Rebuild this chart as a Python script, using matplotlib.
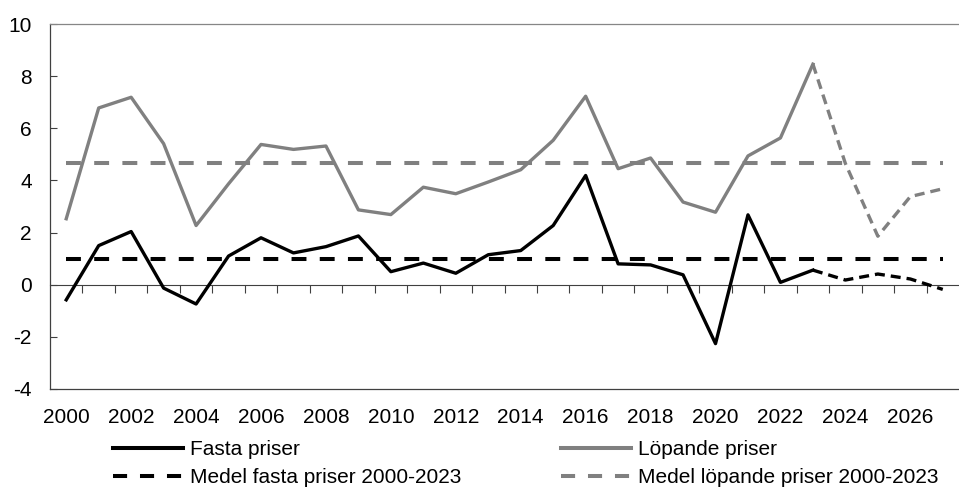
import matplotlib.pyplot as plt
from matplotlib.lines import Line2D

plt.rcParams['font.family'] = ['Liberation Sans', 'DejaVu Sans']
plt.rcParams['font.size'] = 15
plt.rcParams['axes.unicode_minus'] = False

# Data (percent change per year)
years = list(range(2000, 2028))
fasta = [-0.58, 1.50, 2.04, -0.13, -0.74, 1.10, 1.80, 1.22, 1.46, 1.87,
         0.50, 0.83, 0.44, 1.15, 1.31, 2.27, 4.19, 0.80, 0.76, 0.38,
         -2.26, 2.68, 0.09, 0.56, 0.18, 0.41, 0.22, -0.18]
lopande = [2.53, 6.78, 7.19, 5.41, 2.27, 3.87, 5.38, 5.19, 5.32, 2.87,
           2.69, 3.74, 3.49, 3.94, 4.41, 5.54, 7.23, 4.45, 4.86, 3.17,
           2.78, 4.94, 5.63, 8.46, 4.65, 1.86, 3.38, 3.68]
medel_fasta = 0.98
medel_lopande = 4.68
last_outcome = 2023
xticks = list(range(2000, 2028, 2))

black = '#000000'
grey = '#808080'

fig = plt.figure(figsize=(9.59, 4.88), dpi=100)
ax = fig.add_axes([50 / 959, 1 - 389 / 488, 909 / 959, 365 / 488])

k = years.index(last_outcome) + 1
mean_dash = (0, (3.7, 3.3))
fc_dash = (0, (3, 1.8))

ax.plot(years, [medel_lopande] * len(years), color=grey, lw=2.9,
        linestyle=mean_dash, dash_capstyle='butt', zorder=2)
ax.plot(years, [medel_fasta] * len(years), color=black, lw=2.9,
        linestyle=mean_dash, dash_capstyle='butt', zorder=2)
ax.plot(years[:k], lopande[:k], color=grey, lw=2.4, zorder=3)
ax.plot(years[k - 1:], lopande[k - 1:], color=grey, lw=2.4,
        linestyle=fc_dash, zorder=3)
ax.plot(years[:k], fasta[:k], color=black, lw=2.4, zorder=4)
ax.plot(years[k - 1:], fasta[k - 1:], color=black, lw=2.4,
        linestyle=fc_dash, zorder=4)

ax.set_xlim(1999.5, 2027.5)
ax.set_ylim(-4, 10)
ax.set_yticks(range(-4, 11, 2))
ax.set_xticks(xticks)
ax.tick_params(axis='x', length=0, pad=14)
ax.tick_params(axis='y', direction='in', length=5, width=0.8,
               color='#404040', pad=13)

ax.spines['right'].set_visible(False)
ax.spines['left'].set_color('#404040')
ax.spines['top'].set_color('#868686')
ax.spines['bottom'].set_color('#404040')
for s in ['left', 'top', 'bottom']:
    ax.spines[s].set_linewidth(0.9)

# zero line with ticks between the years
zero = ax.secondary_xaxis(4 / 14)
zero.set_xticks([y + 0.5 for y in years[:-1]])
zero.set_xticklabels([])
zero.tick_params(direction='out', length=6, width=0.8, color='#404040')
zero.spines['bottom'].set_color('#404040')
zero.spines['bottom'].set_linewidth(0.8)

leg_dash = (0, (3.5, 3.2))
handles = [
    Line2D([], [], color=black, lw=2.9),
    Line2D([], [], color=black, lw=2.9, linestyle=leg_dash),
    Line2D([], [], color=grey, lw=2.9),
    Line2D([], [], color=grey, lw=2.9, linestyle=leg_dash),
]
labels = ['Fasta priser', 'Medel fasta priser 2000-2023',
          'Löpande priser', 'Medel löpande priser 2000-2023']
fig.legend(handles, labels, ncol=2, loc='upper left',
           bbox_to_anchor=(113 / 959, 1 - 440 / 488), frameon=False,
           borderpad=0, borderaxespad=0, handlelength=3.37,
           handletextpad=0.35, columnspacing=4.75, labelspacing=0.44)

fig.savefig('out.png', dpi=100)
